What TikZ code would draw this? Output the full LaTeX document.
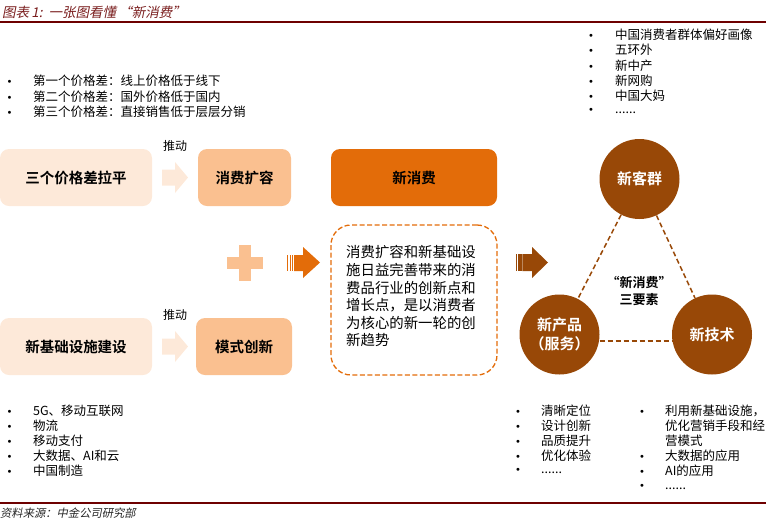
\documentclass[tikz,border=0pt]{standalone}
\usepackage{fontspec}
\setmainfont{Noto Sans CJK SC}[BoldFont={Noto Sans CJK SC Bold}]
\newfontfamily\cjkit{Noto Sans CJK SC}[FakeSlant=0.2]
\newfontfamily\dejavu{DejaVu Sans}
\newcommand{\bdot}{{\dejavu\fontsize{10}{12}\selectfont •}}
\definecolor{lightpeach}{HTML}{FDE9D9}
\definecolor{peach}{HTML}{FAC090}
\definecolor{orng}{HTML}{E36C09}
\definecolor{brwn}{HTML}{984807}
\definecolor{maroon}{HTML}{6E0000}
\definecolor{titlered}{HTML}{7A1E1E}
\begin{document}
\begin{tikzpicture}[x=1pt,y=-1pt,
  box/.style={rounded corners=9pt, minimum height=57pt, inner sep=0pt,
    font=\bfseries\fontsize{14.5}{16}\selectfont},
  bul/.style={anchor=west, inner sep=0pt, font=\fontsize{12.5}{15}\selectfont},
  bulline/.style={anchor=west, inner sep=0pt, font=\fontsize{12.5}{15}\selectfont},
  push/.style={inner sep=0pt, font=\fontsize{12}{14}\selectfont},
  elem/.style={circle, fill=brwn, minimum size=80pt, inner sep=0pt, text=white,
    align=center, font=\bfseries\fontsize{15}{19}\selectfont},
  link/.style={draw=brwn, dash pattern=on 5pt off 3pt, line width=1.5pt}]
\useasboundingbox (0,0) rectangle (766,523);

% title and rules
\node[anchor=west, inner sep=0pt, text=titlered, font=\cjkit\fontsize{13.5}{15}\selectfont] (title) at (2,12) {图表\,1:\ \ 一张图看懂\,“新消费”};
\draw[maroon, line width=2pt] (0,22) -- (766,22);
\draw[maroon, line width=2pt] (0,502.5) -- (766,502.5);
\node[anchor=west, inner sep=0pt, text=black!85, font=\cjkit\fontsize{11.3}{13}\selectfont] (src) at (0,513) {资料来源：中金公司研究部};

% top-left bullets
\node[bul] (tl1) at (6.5,81) {\makebox[26.5pt][l]{\bdot}第一个价格差：线上价格低于线下};
\node[bul] (tl2) at (6.5,97) {\makebox[26.5pt][l]{\bdot}第二个价格差：国外价格低于国内};
\node[bul] (tl3) at (6.5,112) {\makebox[26.5pt][l]{\bdot}第三个价格差：直接销售低于层层分销};

% top-right bullets
\node[bul] (tr1) at (588,35) {\makebox[27pt][l]{\bdot}中国消费者群体偏好画像};
\node[bul] (tr2) at (588,50) {\makebox[27pt][l]{\bdot}五环外};
\node[bul] (tr3) at (588,66) {\makebox[27pt][l]{\bdot}新中产};
\node[bul] (tr4) at (588,81) {\makebox[27pt][l]{\bdot}新网购};
\node[bul] (tr5) at (588,96) {\makebox[27pt][l]{\bdot}中国大妈};
\node[bul] (tr6) at (588,111) {\makebox[27pt][l]{\bdot}......};

% boxes
\node[box, fill=lightpeach, minimum width=152pt] (b1) at (76,177.5) {三个价格差拉平};
\node[box, fill=peach, minimum width=93pt] (b2) at (244.5,177.5) {消费扩容};
\node[box, fill=orng, minimum width=166pt] (b3) at (414,177.5) {新消费};
\node[box, fill=lightpeach, minimum width=152pt] (b4) at (76,346.5) {新基础设施建设};
\node[box, fill=peach, minimum width=96pt] (b5) at (244,346.5) {模式创新};

\node[push] (p1) at (175,146) {推动};
\node[push] (p2) at (175,315) {推动};

% light push arrows
\fill[lightpeach] (162,169.5) -- (175,169.5) -- (175,162) -- (188,177.5) -- (175,193) -- (175,185.5) -- (162,185.5) -- cycle;
\fill[lightpeach] (162,338.5) -- (175,338.5) -- (175,331) -- (188,346.5) -- (175,362) -- (175,354.5) -- (162,354.5) -- cycle;

% plus sign
\fill[peach] (227,257) rectangle (263,268.5);
\fill[peach] (239,245) rectangle (250.5,281);

% orange striped arrow
\fill[orng] (287,255) rectangle (288.4,271);
\fill[orng] (289.6,255) rectangle (290.8,271);
\fill[orng] (291.8,255) rectangle (293.3,271);
\fill[orng] (294.2,255) -- (303,255) -- (303,247) -- (320,262.5) -- (303,278) -- (303,271) -- (294.2,271) -- cycle;

% dashed description box
\node[draw=orng, dash pattern=on 5pt off 2.5pt, line width=1.3pt, rounded corners=20pt,
  minimum width=166pt, minimum height=150pt, inner sep=0pt] (desc) at (414,300) {};
\node[anchor=north west, inner sep=0pt, align=left, font=\fontsize{14.4}{17.6}\selectfont] (desctext) at (346,245.5)
  {消费扩容和新基础设\\施日益完善带来的消\\费品行业的创新点和\\增长点，是以消费者\\为核心的新一轮的创\\新趋势};

% brown striped arrow
\fill[brwn] (516,254) rectangle (517.4,271);
\fill[brwn] (518.4,254) rectangle (519.5,271);
\fill[brwn] (520.4,254) rectangle (521.5,271);
\fill[brwn] (522.3,254) -- (532,254) -- (532,247) -- (548,262.5) -- (532,278) -- (532,271) -- (522.3,271) -- cycle;

% three elements
\node[elem] (kq) at (639.5,179) {新客群};
\node[elem] (cp) at (559.5,334.5) {新产品\\（服务）};
\node[elem] (js) at (712,334.5) {新技术};
\draw[link] (kq) -- (cp);
\draw[link] (kq) -- (js);
\draw[link] ([yshift=-6.5pt]cp.east) -- ([yshift=-6.5pt]js.west);
\node[inner sep=0pt, align=center, font=\bfseries\fontsize{13}{17}\selectfont] (three) at (639,290.5) {“新消费”\\三要素};

% bottom-left bullets
\node[bul] (bl1) at (6.5,410.5) {\makebox[26.5pt][l]{\bdot}5G、移动互联网};
\node[bul] (bl2) at (6.5,425.5) {\makebox[26.5pt][l]{\bdot}物流};
\node[bul] (bl3) at (6.5,440.5) {\makebox[26.5pt][l]{\bdot}移动支付};
\node[bul] (bl4) at (6.5,455.5) {\makebox[26.5pt][l]{\bdot}大数据、AI和云};
\node[bul] (bl5) at (6.5,471) {\makebox[26.5pt][l]{\bdot}中国制造};

% bottom-right bullets, column 1
\node[bul] (c1a) at (515,410.5) {\makebox[26pt][l]{\bdot}清晰定位};
\node[bul] (c1b) at (515,425.5) {\makebox[26pt][l]{\bdot}设计创新};
\node[bul] (c1c) at (515,440.5) {\makebox[26pt][l]{\bdot}品质提升};
\node[bul] (c1d) at (515,455.5) {\makebox[26pt][l]{\bdot}优化体验};
\node[bul] (c1e) at (515,471) {\makebox[26pt][l]{\bdot}......};

% bottom-right bullets, column 2
\node[bul] (c2a) at (639,410.5) {\makebox[26pt][l]{\bdot}利用新基础设施，};
\node[bulline] (c2a2) at (665,425.5) {优化营销手段和经};
\node[bulline] (c2a3) at (665,440.5) {营模式};
\node[bul] (c2b) at (639,455.5) {\makebox[26pt][l]{\bdot}大数据的应用};
\node[bul] (c2c) at (639,471) {\makebox[26pt][l]{\bdot}AI的应用};
\node[bul] (c2d) at (639,486.5) {\makebox[26pt][l]{\bdot}......};
\end{tikzpicture}
\end{document}
